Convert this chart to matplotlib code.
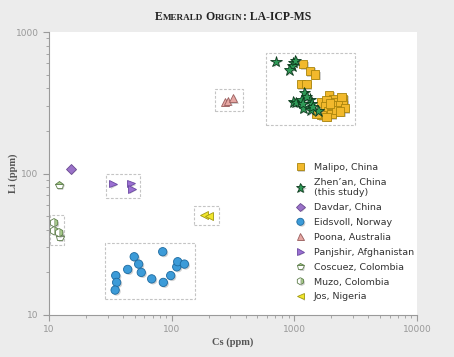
import matplotlib
matplotlib.use("Agg")
import matplotlib.pyplot as plt
import matplotlib.ticker as ticker
import matplotlib.patheffects as pe
from matplotlib.patches import Rectangle

# Cs (ppm), Li (ppm)
malipo_cs = [1183, 1348, 1481, 1132, 1259, 1668, 1923, 2075, 2142, 2504, 2504, 2427, 1833,
             1775, 1889, 2014, 1668, 1517, 2280, 2584, 2014, 2208, 1948, 2355, 1833]
malipo_li = [591, 530, 502, 427, 427, 318, 359, 334, 318, 336, 313, 349, 330,
             297, 274, 263, 259, 266, 305, 289, 305, 281, 313, 274, 252]
zhenan_cs = [708, 979, 962, 908, 1016, 1205, 979, 1025, 1146, 1340, 1383, 1183, 1360, 1566, 1259, 1409, 1166]
zhenan_li = [617, 607, 575, 539, 627, 372, 321, 318, 330, 334, 313, 289, 281, 277, 349, 297, 313]
davdar_cs = [15]
davdar_li = [108]
eidsvoll_cs = [35.0, 35.6, 34.6, 43.8, 49.5, 53.8, 56.5, 68.7, 84.5, 85.5, 98.2, 110, 112, 127]
eidsvoll_li = [19.0, 17.0, 15.0, 21.0, 25.8, 22.9, 20.0, 18.0, 28.0, 17.0, 19.0, 21.9, 23.8, 22.9]
poona_cs = [272, 286, 318]
poona_li = [321, 327, 340]
panjshir_cs = [33.4, 46.5, 47.7]
panjshir_li = [84.8, 85.0, 78.1]
coscuez_cs = [12.1, 12.2]
coscuez_li = [83.0, 35.7]
muzo_cs = [11.0, 11.0, 12.1]
muzo_li = [44.9, 39.4, 38.2]
jos_cs = [183, 202]
jos_li = [50.9, 50.2]

fig = plt.figure(figsize=(4.54, 3.57), dpi=100, facecolor="#ececec")
ax = fig.add_axes([49 / 454, 1 - 315 / 357, 368 / 454, 283 / 357])
ax.set_facecolor("white")
ax.set_xscale("log")
ax.set_yscale("log")
ax.set_xlim(10, 10000)
ax.set_ylim(10, 1000)

shadow = [pe.SimplePatchShadow(offset=(1, -1), shadow_rgbFace="#999999", alpha=0.45), pe.Normal()]


def dots(x, y, label, **kw):
    ln, = ax.plot(x, y, linestyle="none", label=label, markeredgewidth=0.6, **kw)
    ln.set_path_effects(shadow)
    return ln


def box(xs, ys, px=1.18, py=1.16):
    x0, x1 = min(xs) / px, max(xs) * px
    y0, y1 = min(ys) / py, max(ys) * py
    ax.add_patch(Rectangle((x0, y0), x1 - x0, y1 - y0, fill=False, ec="#c4c4c4",
                           lw=0.8, ls=(0, (2.5, 1.5)), zorder=1))


box(malipo_cs + zhenan_cs, malipo_li + zhenan_li, 1.2, 1.14)
box(poona_cs, poona_li, 1.2, 1.17)
box(panjshir_cs, panjshir_li, 1.15, 1.17)
box(jos_cs, jos_li, 1.2, 1.16)
box(eidsvoll_cs, eidsvoll_li, 1.22, 1.16)
box(muzo_cs + coscuez_cs[1:], muzo_li + coscuez_li[1:], 1.08, 1.14)

dots(malipo_cs, malipo_li, "Malipo, China", marker="s", ms=6, mfc="#f2b92c", mec="#a8840c")
dots(zhenan_cs, zhenan_li, "Zhen\u2019an, China\n(this study)", marker="*", ms=8.5, mfc="#2f9a57", mec="#0c3a1d")
dots(davdar_cs, davdar_li, "Davdar, China", marker="D", ms=5, mfc="#9a72c8", mec="#6a4a92")
dots(eidsvoll_cs, eidsvoll_li, "Eidsvoll, Norway", marker="o", ms=6, mfc="#3c9bd8", mec="#1d6aa0")
dots(poona_cs, poona_li, "Poona, Australia", marker="^", ms=5.5, mfc="#e6a7a3", mec="#9a5e5e")
dots(panjshir_cs, panjshir_li, "Panjshir, Afghanistan", marker=">", ms=5.5, mfc="#9b70d2", mec="#6a48a2")
dots(coscuez_cs, coscuez_li, "Coscuez, Colombia", marker="p", ms=6, fillstyle="top",
     mfc="#a6cc88", mfcalt="white", mec="#5d7d4a")
dots(muzo_cs, muzo_li, "Muzo, Colombia", marker="h", ms=6, fillstyle="right",
     mfc="#a6cc88", mfcalt="white", mec="#5d7d4a")
dots(jos_cs, jos_li, "Jos, Nigeria", marker="<", ms=5.5, mfc="#f1e62c", mec="#a39a12")

for s in ["top", "right"]:
    ax.spines[s].set_visible(False)
for s in ["left", "bottom"]:
    ax.spines[s].set_color("#9a9a9a")
    ax.spines[s].set_linewidth(0.8)
ax.tick_params(which="both", direction="out", color="#9a9a9a", labelcolor="#999999", labelsize=6.5)
ax.tick_params(which="major", length=4, width=0.8)
ax.tick_params(which="minor", length=2.5, width=0.6)
fmt = ticker.FuncFormatter(lambda v, p: f"{v:g}")
ax.xaxis.set_major_formatter(fmt)
ax.yaxis.set_major_formatter(fmt)
ax.xaxis.set_minor_formatter(ticker.NullFormatter())
ax.yaxis.set_minor_formatter(ticker.NullFormatter())

ax.set_xlabel("Cs (ppm)", fontsize=7.5, color="#555555", fontweight="bold",
              family="Liberation Serif")
ax.set_ylabel("Li (ppm)", fontsize=7.5, color="#555555", fontweight="bold",
              family="Liberation Serif")
ax.xaxis.set_label_coords(0.5, -0.08)
ax.yaxis.set_label_coords(-0.083, 0.5)

leg = ax.legend(loc="upper left", bbox_to_anchor=(0.66, 0.55), frameon=False,
                prop={"size": 6.8}, handlelength=1.0, handletextpad=0.9, labelspacing=0.62,
                borderaxespad=0, markerscale=0.85)
for t in leg.get_texts():
    t.set_color("#333333")

# small-caps title built from pieces
title = "Emerald Origin: LA-ICP-MS"
runs = []
for ch in title:
    big = not ch.islower()
    if runs and runs[-1][1] == big:
        runs[-1][0] += ch
    else:
        runs.append([ch, big])

renderer = fig.canvas.get_renderer()
texts = []
x = 0.0
for s, big in runs:
    t = fig.text(0, 1 - 20 / 357, s.upper(), fontsize=8.5 if big else 6.6, fontweight="bold",
                 family="Liberation Serif", color="#222222", va="baseline", ha="left")
    w = t.get_window_extent(renderer).width / fig.bbox.width
    texts.append((t, x))
    x += w
start = 233 / 454 - x / 2
for t, off in texts:
    t.set_x(start + off)

fig.savefig("out.png", dpi=100, facecolor=fig.get_facecolor())
